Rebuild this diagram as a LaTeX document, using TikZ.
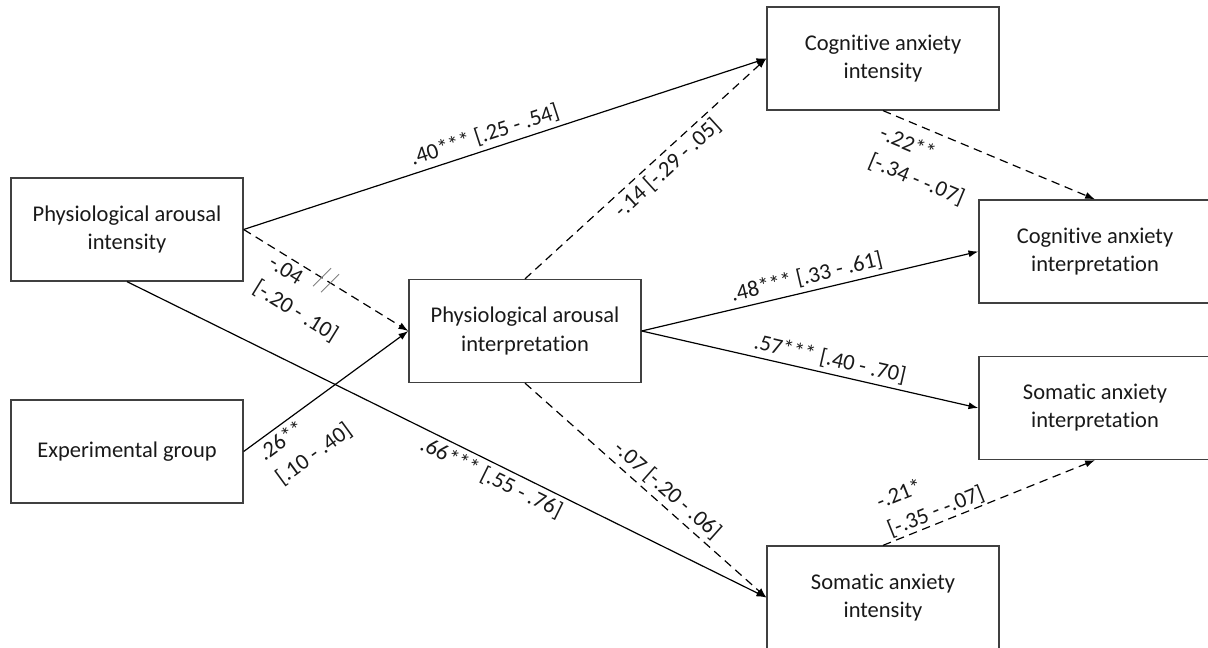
\documentclass[tikz,border=0pt]{standalone}
\usepackage{fontspec}
\setmainfont{Carlito}[Ligatures=CommonOff]
\usetikzlibrary{arrows.meta}

\tikzset{
  var/.style={draw=black!75, line width=0.9pt, minimum width=5.8cm, minimum height=2.575cm, align=center, inner sep=2pt},
  eff/.style={-{Latex[length=7pt,width=5pt]}, line width=0.85pt},
  neff/.style={eff, dash pattern=on 6pt off 4pt},
  lab/.style={sloped, align=left, inner sep=3pt, font=\fontsize{16}{21}\selectfont}
}

\begin{document}
\begin{tikzpicture}[x=0.025cm, y=-0.025cm, font=\fontsize{16}{20}\selectfont, text=black!90]
        \useasboundingbox (0,0) rectangle (1208,648);
        \node[var] (pai) at (127,229.5) {Physiological arousal\\intensity};
        \node[var] (grp) at (127,451.5) {Experimental group};
        \node[var] (pan) at (525,331) {Physiological arousal\\interpretation};
        \node[var] (cai) at (883,58.5) {Cognitive anxiety\\intensity};
        \node[var] (can) at (1095,251.5) {Cognitive anxiety\\interpretation};
        \node[var] (san) at (1095,408) {Somatic anxiety\\interpretation};
        \node[var] (sai) at (883,597.5) {Somatic anxiety\\intensity};
        \draw[eff] (pai.east) -- node[lab,above,pos=0.47] {.40*** [.25 - .54]} (cai.west);
        \draw[neff] (pai.east) -- node[lab,below,pos=0.45] {-.04\\{}[-.20 - .10]} coordinate[pos=0.5] (cut) (pan.west);
        \draw[eff] (grp.east) -- node[lab,below,pos=0.27] {.26**\\{}[.10 - .40]} (pan.west);
        \draw[eff] (pai.south) -- node[lab,below,pos=0.58] {.66*** [.55 - .76]} (sai.west);
        \draw[neff] (pan.north) -- node[lab,below,pos=0.55] {-.14 [-.29 - .05]} (cai.west);
        \draw[eff] (pan.east) -- node[lab,above,pos=0.5] {.48*** [.33 - .61]} (can.west);
        \draw[eff] (pan.east) -- node[lab,above,pos=0.55] {.57*** [.40 - .70]} (san.west);
        \draw[neff] (pan.south) -- node[lab,above,pos=0.55] {-.07 [-.20 - .06]} (sai.west);
        \draw[neff] (cai.south) -- node[lab,below=5pt,pos=0.25] {-.22**\\{}[-.34 - -.07]} (can.north);
        \draw[neff] (sai.north) -- node[lab,above=-2pt,pos=0.27] {-.21*\\{}[-.35 - -.07]} (san.south);
        % cut mark
        \begin{scope}[shift={(cut)}, gray, line width=0.6pt]
            \draw (-13,6) -- (5,-12);
            \draw (-5,12) -- (13,-6);
        \end{scope}
\end{tikzpicture}
\end{document}
